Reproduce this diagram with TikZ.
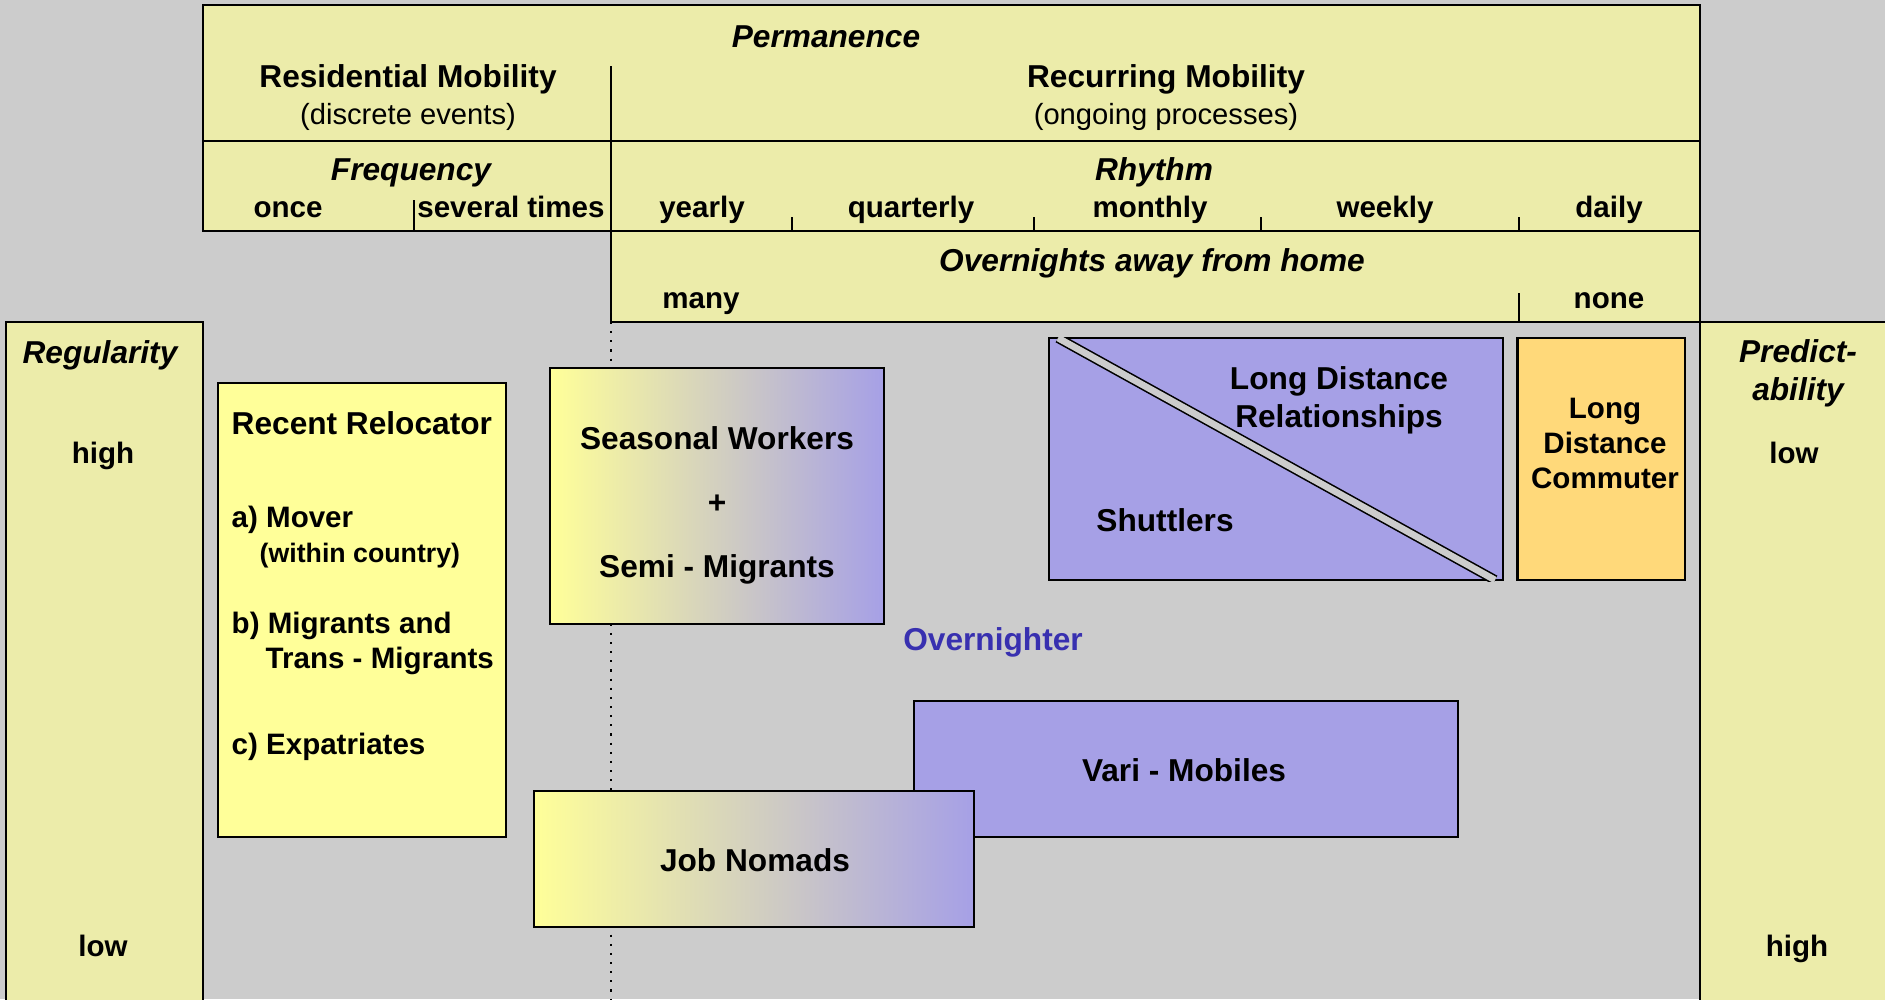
\documentclass[tikz,border=0pt]{standalone}
\usepackage{fontspec}
\setmainfont{Liberation Sans}

\definecolor{bggray}{RGB}{204,204,204}
\definecolor{hdryellow}{RGB}{236,236,170}
\definecolor{paleyellow}{RGB}{255,255,153}
\definecolor{lavender}{RGB}{166,160,230}
\definecolor{apricot}{RGB}{255,217,122}
\definecolor{nightblue}{RGB}{56,48,176}

\newcommand\labsize{\fontsize{9}{10.8}\selectfont}
\newcommand\smallsize{\fontsize{8.4}{10}\selectfont}

\tikzset{
  frame/.style = {line width=0.7pt},
  tick/.style  = {line width=0.35pt},
  box/.style   = {draw, line width=0.6pt, inner sep=0pt},
  lab/.style   = {font=\labsize\bfseries, inner sep=0pt, text height=6.5pt, text depth=1.9pt, yshift=0.5pt},
  sml/.style   = {lab, font=\smallsize\bfseries},
  ital/.style  = {lab, font=\labsize\bfseries\itshape},
  plain/.style = {lab, font=\fontsize{8.3}{10}\selectfont},
  multi/.style = {font=\labsize\bfseries, inner sep=0pt, align=center, yshift=0.5pt},
}

\begin{document}
\begin{tikzpicture}[x=0.01cm, y=-0.01cm]
\useasboundingbox[fill=bggray] (0,0) rectangle (1885,999);

% side columns
\draw[frame, fill=hdryellow] (6,322) rectangle (203,1010);
\draw[frame, fill=hdryellow] (1700,322) rectangle (1895,1010);

% header block
\draw[frame, fill=hdryellow] (203,5) -- (1700,5) -- (1700,322) -- (611,322)
  -- (611,231) -- (203,231) -- cycle;
\draw[frame] (203,141) -- (1700,141);
\draw[frame] (611,231) -- (1700,231);
\draw[frame] (611,66) -- (611,231);
\draw[tick] (414,200) -- (414,231);
\foreach \x in {792,1034,1261,1519}
  \draw[tick] (\x,217) -- (\x,231);
\draw[tick] (1519,293) -- (1519,322);
\draw[dotted, line width=0.6pt] (611,322) -- (611,1000);

% header texts
\node[ital]  (perm)  at (826,41)  {Permanence};
\node[lab]   (resid) at (408,81)  {Residential Mobility};
\node[plain] (discr) at (408,118) {(discrete events)};
\node[lab]   (recur) at (1166,81) {Recurring Mobility};
\node[plain] (ongo)  at (1166,118) {(ongoing processes)};
\node[ital]  (freq)  at (411,174) {Frequency};
\node[sml]   (once)  at (288,211) {once};
\node[sml]   (sev)   at (511,211) {several times};
\node[ital]  (rhy)   at (1154,174) {Rhythm};
\node[sml]   (yr)    at (702,211)  {yearly};
\node[sml]   (qu)    at (911,211)  {quarterly};
\node[sml]   (mo)    at (1150,211) {monthly};
\node[sml]   (wk)    at (1385,211) {weekly};
\node[sml]   (dy)    at (1609,211) {daily};
\node[ital]  (ovn)   at (1152,265) {Overnights away from home};
\node[sml]   (many)  at (701,302)  {many};
\node[sml]   (none)  at (1609,302) {none};

% side texts
\node[ital] (reg)   at (100,357) {Regularity};
\node[sml]  (reghi) at (103,457) {high};
\node[sml]  (reglo) at (103,950) {low};
\node[multi, font=\labsize\bfseries\itshape] (pred) at (1798,375) {Predict-\\ability};
\node[sml]  (predlo) at (1794,457) {low};
\node[sml]  (predhi) at (1797,950) {high};

% boxes
\node[box, fill=paleyellow, minimum width=2.88cm, minimum height=4.54cm] (reloc) at (362,610) {};
\node[lab, anchor=west] (rel0) at (231,428) {Recent Relocator};
\node[sml, anchor=west] (rel1) at (231,521) {a) Mover};
\node[lab, anchor=west, font=\fontsize{7.6}{9}\selectfont\bfseries] (rel2) at (259,556) {(within country)};
\node[sml, anchor=west] (rel3) at (231,627) {b) Migrants and};
\node[sml, anchor=west] (rel4) at (265,662) {Trans - Migrants};
\node[sml, anchor=west] (rel5) at (231,748) {c) Expatriates};

\node[box, left color=paleyellow, right color=lavender, minimum width=3.33cm,
  minimum height=2.56cm] (season) at (717,496) {};
\node[multi, font=\fontsize{9}{18.2}\selectfont\bfseries] (seatxt) at (717,507)
  {Seasonal Workers\\+\\Semi - Migrants};

\node[box, fill=lavender, minimum width=4.53cm, minimum height=2.42cm] (ldr) at (1276,459) {};
\begin{scope}
  \clip (1049,337) rectangle (1504,581);
  \draw[line width=0.45pt, double=bggray, double distance=1.9pt] (1058,338) -- (1495,580);
\end{scope}
\node[multi] (ldrtxt) at (1339,402) {Long Distance\\Relationships};
\node[lab] (shut) at (1165,525) {Shuttlers};

\node[box, fill=apricot, minimum width=1.67cm, minimum height=2.42cm] (ldc) at (1601,459) {};
\node[multi, font=\fontsize{8.4}{9.9}\selectfont\bfseries] (ldctxt) at (1605,445) {Long\\Distance\\Commuter};

\node[lab, text=nightblue] (night) at (993,644) {Overnighter};

\node[box, fill=lavender, minimum width=5.44cm, minimum height=1.36cm] (vari) at (1186,769) {};
\node[lab] (varitxt) at (1184,775) {Vari - Mobiles};
\node[box, left color=paleyellow, right color=lavender, minimum width=4.39cm,
  minimum height=1.36cm] (nomad) at (754,859) {};
\node[lab] (nomadtxt) at (755,865) {Job Nomads};
\end{tikzpicture}
\end{document}
